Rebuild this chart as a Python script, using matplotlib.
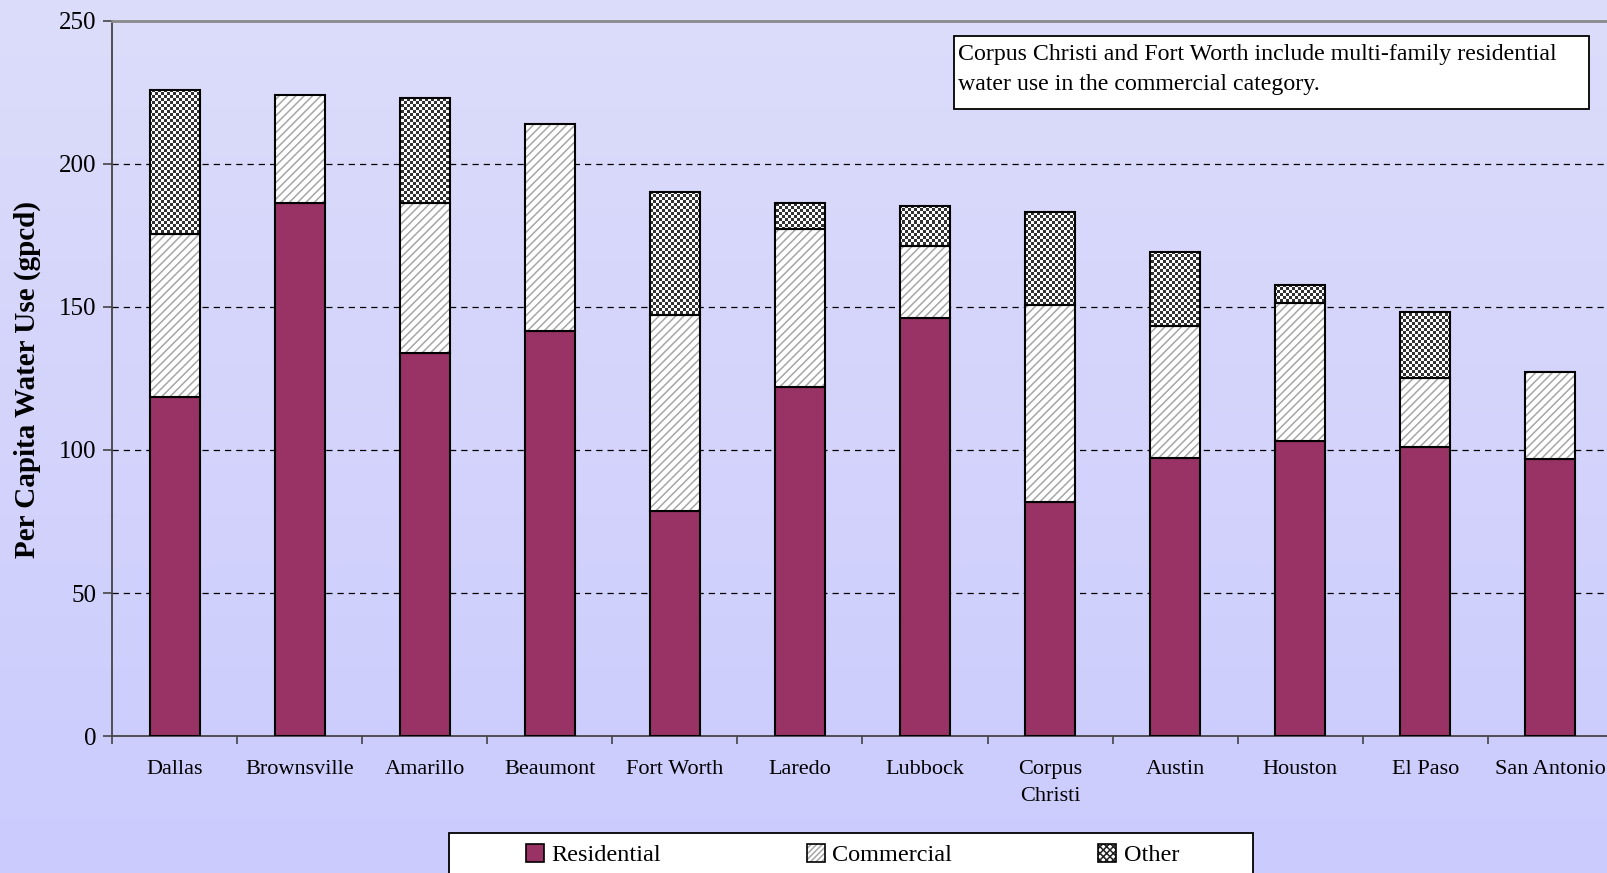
import numpy as np
import matplotlib
matplotlib.use("Agg")
import matplotlib.pyplot as plt
from matplotlib.patches import Rectangle, Patch
from matplotlib.colors import LinearSegmentedColormap
from matplotlib.ticker import FixedLocator

# Per capita water use by city, split by customer class (gpcd)
cities = ["Dallas", "Brownsville", "Amarillo", "Beaumont", "Fort Worth", "Laredo",
          "Lubbock", "Corpus\nChristi", "Austin", "Houston", "El Paso", "San Antonio"]
residential = [118.6, 186.2, 134.0, 141.5, 78.8, 122.1, 146.1, 82.0, 97.1, 103.2, 101.0, 96.7]
commercial = [56.9, 37.7, 52.2, 72.3, 68.4, 55.2, 25.1, 68.8, 46.2, 48.3, 24.0, 30.4]
other = [50.1, 0.0, 36.9, 0.0, 43.0, 8.9, 14.0, 32.2, 25.7, 6.1, 23.3, 0.0]
series_labels = ["Residential", "Commercial", "Other"]
note = "Corpus Christi and Fort Worth include multi-family residential\nwater use in the commercial category."

plt.rcParams['font.family'] = ['Liberation Serif', 'DejaVu Serif']
plt.rcParams['hatch.linewidth'] = 1.1

RES_COLOR = '#993366'
HATCH_GRAY = '#a6a6a6'
W, H = 1608, 873

fig = plt.figure(figsize=(W / 100, H / 100), dpi=100)

# soft lavender gradient behind everything
bg = fig.add_axes([0, 0, 1, 1], zorder=-10)
grad = np.linspace(0, 1, 256).reshape(-1, 1)
cmap = LinearSegmentedColormap.from_list('bg', ['#dcdcfa', '#cbcbfe'])
bg.imshow(grad, aspect='auto', cmap=cmap, extent=(0, 1, 1, 0))
bg.axis('off')

ax_left, ax_right = 112 / W, 1613 / W
ax_bottom, ax_top = 1 - 736.3 / H, 1 - 20.5 / H
ax = fig.add_axes([ax_left, ax_bottom, ax_right - ax_left, ax_top - ax_bottom])
ax.set_facecolor('none')

x = np.arange(len(cities))
width = 0.4
res = np.array(residential)
com = np.array(commercial)
oth = np.array(other)

ax.bar(x, res, width, color=RES_COLOR, edgecolor='black', linewidth=1.5, zorder=3)

# commercial: gray diagonal hatch on white, black outline on top
ax.bar(x, com, width, bottom=res, color='white', edgecolor=HATCH_GRAY,
       hatch='////', linewidth=0, zorder=3)
ax.bar(x, com, width, bottom=res, fill=False, edgecolor='black', linewidth=1.5, zorder=4)

# other: checkerboard texture clipped to each bar
board = np.indices((239, 500)).sum(axis=0) % 2
board = np.where(board == 1, 1.0, 0.2)
keep = oth > 0
other_bars = ax.bar(x[keep], oth[keep], width, bottom=(res + com)[keep],
                    color='white', edgecolor='none', zorder=3)
for bar in other_bars:
    im = ax.imshow(board, extent=(-0.5, 11.5, 0, 250), cmap='gray', vmin=0, vmax=1,
                   interpolation='nearest', aspect='auto', zorder=3.2)
    im.set_clip_path(bar)
ax.bar(x[keep], oth[keep], width, bottom=(res + com)[keep], fill=False,
       edgecolor='black', linewidth=1.5, zorder=4)

ax.set_xlim(-0.5, 11.5)
ax.set_ylim(0, 250)
ax.set_yticks(np.arange(0, 251, 50))
ax.set_xticks(x)
ax.set_xticklabels(cities, fontsize=16, linespacing=1.6)
ax.xaxis.set_minor_locator(FixedLocator(np.arange(-0.5, 12, 1)))
ax.tick_params(axis='x', which='major', length=0, pad=17)
ax.tick_params(axis='x', which='minor', length=5.8, width=1.2, color='#444444', direction='out')
ax.tick_params(axis='y', length=6.5, width=1.2, color='#444444', direction='out',
               labelsize=18, pad=5)

ax.set_axisbelow(True)
ax.yaxis.grid(True, color='black', linewidth=0.9, linestyle=(0, (5, 4)))
for gl in (ax.get_ygridlines()[0], ax.get_ygridlines()[-1]):
    gl.set_visible(False)

for side in ('left', 'bottom'):
    ax.spines[side].set_color('#444444')
    ax.spines[side].set_linewidth(1.3)
ax.spines['top'].set_color('#8a8a8a')
ax.spines['top'].set_linewidth(2)
ax.spines['right'].set_visible(False)

fig.text(27.7 / W, 1 - 379 / H, "Per Capita Water Use (gpcd)", rotation=90,
         ha='center', va='center', fontsize=21, fontweight='bold')

# note box in the upper right
fig.patches.append(Rectangle((953.7 / W, 1 - 108.7 / H), (1588.5 - 953.7) / W,
                             (108.7 - 35.9) / H, transform=fig.transFigure,
                             facecolor='white', edgecolor='black', linewidth=1.3))
fig.text(958 / W, 1 - 69.5 / H, note, ha='left', va='center', fontsize=17.2, linespacing=1.6)

# legend panel along the bottom
fig.patches.append(Rectangle((449 / W, -0.05), (1253 - 449) / W, 0.05 + 1 - 833 / H,
                             transform=fig.transFigure, facecolor='white',
                             edgecolor='black', linewidth=1.3))
h_res = Patch(facecolor=RES_COLOR, edgecolor='black', linewidth=1.2)
h_com = (Patch(facecolor='white', edgecolor=HATCH_GRAY, hatch='//////', linewidth=0),
         Patch(fill=False, edgecolor='black', linewidth=1.2))
h_oth = (Patch(facecolor='white', edgecolor='#222222', hatch='xxxxx', linewidth=0),
         Patch(fill=False, edgecolor='black', linewidth=1.2))
fig.legend([h_res, h_com, h_oth], series_labels, ncol=3, mode='expand', loc='center',
           bbox_to_anchor=(526 / W, 1 - 855 / H, (1179 - 526) / W, 0),
           frameon=False, handlelength=0.75, handleheight=0.75, handletextpad=0.3,
           borderpad=0, borderaxespad=0, fontsize=17.5)

fig.savefig('out.png', dpi=100)
